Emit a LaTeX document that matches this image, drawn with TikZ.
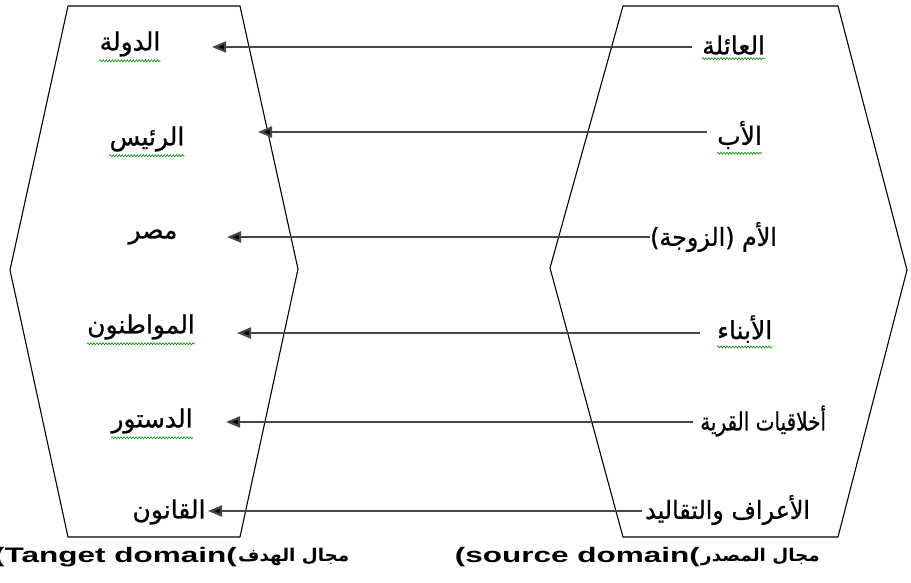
\documentclass[tikz,border=0pt]{standalone}
\usepackage{fontspec}
\setmainfont{Liberation Sans}
\newfontfamily\arabicfont[Script=Arabic,FakeBold=0.8]{DejaVu Sans}
\newfontfamily\arabicbold[Script=Arabic]{DejaVu Sans Bold}
\TeXXeTstate=1
\usetikzlibrary{arrows.meta,decorations.pathmorphing}
\newcommand\wideA[2][1.0]{\scalebox{#1}[1]{\arabicfont\beginR #2\endR}}
\newcommand\wideB[1]{\scalebox{1.05}[1]{\arabicbold\beginR #1\endR}}
\newcommand\wideL[1]{\scalebox{1.5}[1]{#1}}
\begin{document}
\begin{tikzpicture}[x=1pt,y=-1pt,
  hexa/.style={draw=black,line width=1.1pt,line join=round},
  arr/.style={draw=black!72,line width=2.2pt,-{Triangle[length=14pt,width=11pt,fill=black]}},
  lab/.style={inner sep=0pt,font=\fontsize{25}{28}\selectfont},
  bot/.style={inner sep=0pt,font=\fontsize{21}{24}\selectfont\bfseries},
  bota/.style={inner sep=0pt,font=\fontsize{17.5}{20}\selectfont},
  spell/.style={draw=green!55!black,line width=0.6pt,decorate,decoration={snake,amplitude=1pt,segment length=3pt}}]
\useasboundingbox (0,0) rectangle (911,583);
% domains
\draw[hexa] (68,6) -- (240,6) -- (298,269) -- (240,537) -- (68,537) -- (10,270) -- cycle;
\draw[hexa] (623,6) -- (838,6) -- (907,270) -- (838,537) -- (623,537) -- (550,268) -- cycle;
% target domain items
\node[lab] (t1) at (130,44) {\wideA{الدولة}};
\node[lab] (t2) at (147,139) {\wideA{الرئيس}};
\node[lab] (t3) at (153,237) {\wideA{مصر}};
\node[lab] (t4) at (141,327) {\wideA{المواطنون}};
\node[lab] (t5) at (152,421) {\wideA{الدستور}};
\node[lab] (t6) at (169,512) {\wideA{القانون}};
% source domain items
\node[lab,anchor=west] (s1) at (702,45) {\wideA{العائلة}};
\node[lab,anchor=west] (s2) at (717,135) {\wideA{الأب}};
\node[lab,anchor=west] (s3) at (650,237) {\wideA[0.95]{الأم (الزوجة)}};
\node[lab,anchor=west] (s4) at (717,329) {\wideA{الأبناء}};
\node[lab,anchor=west] (s5) at (700,421) {\wideA[0.8]{أخلاقيات القرية}};
\node[lab,anchor=west] (s6) at (645,510) {\wideA[0.95]{الأعراف والتقاليد}};
% spell-check underlines
\foreach \n in {t1,t2,t4,t5,s1,s2,s4}
  \draw[spell] ([yshift=-4pt]\n.south west) -- ([yshift=-4pt]\n.south east);
% arrow ends
\coordinate (e1) at (212,47);
\coordinate (e2) at (258,132);
\coordinate (e3) at (227,237);
\coordinate (e4) at (237,333);
\coordinate (e5) at (226,422);
\coordinate (e6) at (208,511);
\draw[arr] ([xshift=-10pt]s1.west |- e1) -- (e1);
\draw[arr] ([xshift=-10pt]s2.west |- e2) -- (e2);
\draw[arr] ([xshift=0pt]s3.west |- e3) -- (e3);
\draw[arr] ([xshift=-17pt]s4.west |- e4) -- (e4);
\draw[arr] ([xshift=-7pt]s5.west |- e5) -- (e5);
\draw[arr] ([xshift=-3pt]s6.west |- e6) -- (e6);
% captions
\node[bot,anchor=east] (c1) at (237,557) {\wideL{(Tanget domain(}};
\node[bota,anchor=west] (c2) at (238,557) {\wideB{مجال الهدف}};
\node[bot,anchor=east] (c3) at (700,557) {\wideL{(source domain(}};
\node[bota,anchor=west] (c4) at (701,557) {\wideB{مجال المصدر}};
\end{tikzpicture}
\end{document}
